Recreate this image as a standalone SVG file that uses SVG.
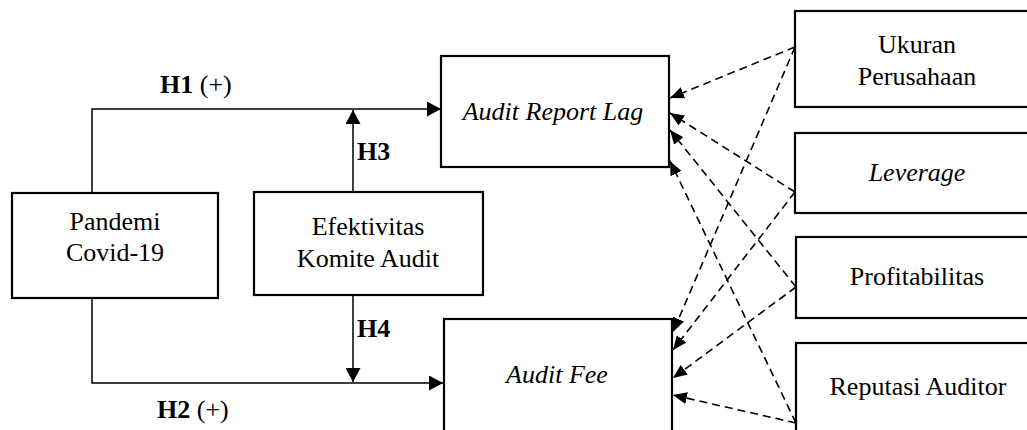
<svg xmlns="http://www.w3.org/2000/svg" width="1027" height="430" viewBox="0 0 1027 430">
  <style>
    .box { fill: #ffffff; stroke: #000000; stroke-width: 2.2; }
    .txt { font-family: "Liberation Serif", "Times New Roman", serif; font-size: 26px; fill: #000000; }
    .c { text-anchor: middle; }
    .it { font-style: italic; }
    .b { font-weight: bold; }
    .solid { fill: none; stroke: #000000; stroke-width: 1.5; }
    .dash { fill: none; stroke: #000000; stroke-width: 1.6; stroke-dasharray: 8 5; }
  </style>
  <defs>
    <marker id="arrow" markerUnits="userSpaceOnUse" markerWidth="14" markerHeight="15" refX="14" refY="7.5" orient="auto">
      <path d="M0,0 L14,7.5 L0,15 z" fill="#000000"/>
    </marker>
    <marker id="arrowSmall" markerUnits="userSpaceOnUse" markerWidth="14" markerHeight="12" refX="14" refY="6" orient="auto">
      <path d="M0,0 L14,6 L0,12 z" fill="#000000"/>
    </marker>
  </defs>

  <rect width="1027" height="430" fill="#ffffff"/>

  <!-- connectors -->
  <g id="connectors">
    <!-- H1: Pandemi to Audit Report Lag -->
    <path class="solid" d="M92,193 L92,109 L441,109" marker-end="url(#arrow)"/>
    <!-- H2: Pandemi to Audit Fee -->
    <path class="solid" d="M92,298 L92,383 L443,383" marker-end="url(#arrow)"/>
    <!-- H3 / H4: moderation by audit committee -->
    <path class="solid" d="M353,192 L353,110" marker-end="url(#arrow)"/>
    <path class="solid" d="M353,295 L353,382" marker-end="url(#arrow)"/>

    <!-- control variables to Audit Report Lag -->
    <line class="dash" x1="795" y1="47" x2="670" y2="98" marker-end="url(#arrowSmall)"/>
    <line class="dash" x1="795" y1="192" x2="670" y2="113" marker-end="url(#arrowSmall)"/>
    <line class="dash" x1="796" y1="287" x2="670" y2="130" marker-end="url(#arrowSmall)"/>
    <line class="dash" x1="796" y1="423" x2="670" y2="161" marker-end="url(#arrowSmall)"/>

    <!-- control variables to Audit Fee -->
    <line class="dash" x1="795" y1="47" x2="673" y2="332" marker-end="url(#arrowSmall)"/>
    <line class="dash" x1="795" y1="192" x2="673" y2="350" marker-end="url(#arrowSmall)"/>
    <line class="dash" x1="796" y1="287" x2="673" y2="378" marker-end="url(#arrowSmall)"/>
    <line class="dash" x1="796" y1="423" x2="673" y2="395" marker-end="url(#arrowSmall)"/>

    <!-- hypothesis labels -->
    <text class="txt" x="160" y="93"><tspan class="b">H1</tspan> (+)</text>
    <text class="txt" x="157" y="418"><tspan class="b">H2</tspan> (+)</text>
    <text class="txt b" x="357" y="160">H3</text>
    <text class="txt b" x="357" y="337">H4</text>
  </g>

  <g id="pandemi">
    <rect class="box" x="12" y="193" width="206" height="105"/>
    <text class="txt c" x="115" y="230">Pandemi</text>
    <text class="txt c" x="115" y="261">Covid-19</text>
  </g>

  <g id="komite-audit">
    <rect class="box" x="254" y="192" width="229" height="103"/>
    <text class="txt c" x="368" y="235">Efektivitas</text>
    <text class="txt c" x="368" y="267">Komite Audit</text>
  </g>

  <g id="audit-report-lag">
    <rect class="box" x="441" y="56" width="228" height="111"/>
    <text class="txt c it" x="553" y="120">Audit Report Lag</text>
  </g>

  <g id="audit-fee">
    <rect class="box" x="444" y="319" width="228" height="140"/>
    <text class="txt c it" x="557" y="383">Audit Fee</text>
  </g>

  <g id="ukuran-perusahaan">
    <rect class="box" x="795" y="11" width="260" height="96"/>
    <text class="txt c" x="917" y="53">Ukuran</text>
    <text class="txt c" x="917" y="85">Perusahaan</text>
  </g>

  <g id="leverage">
    <rect class="box" x="795" y="133" width="260" height="80"/>
    <text class="txt c it" x="917" y="181">Leverage</text>
  </g>

  <g id="profitabilitas">
    <rect class="box" x="796" y="237" width="260" height="81"/>
    <text class="txt c" x="917" y="285">Profitabilitas</text>
  </g>

  <g id="reputasi-auditor">
    <rect class="box" x="796" y="343" width="260" height="120"/>
    <text class="txt c" x="918" y="395">Reputasi Auditor</text>
  </g>
</svg>
